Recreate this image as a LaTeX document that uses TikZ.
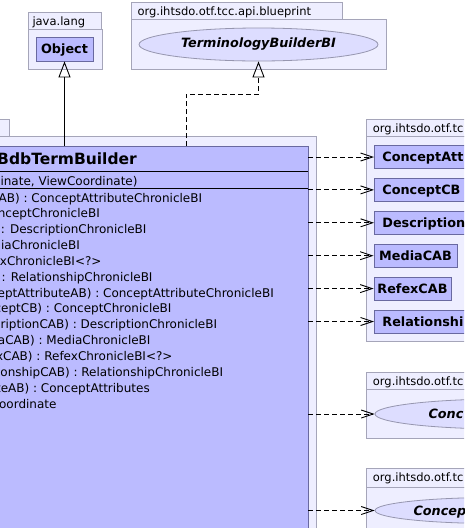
\documentclass[tikz,border=0pt]{standalone}
\usepackage{fontspec}
\setmainfont{DejaVu Sans}
\usetikzlibrary{arrows.meta,shapes.geometric,fit}
\definecolor{pkgfill}{RGB}{238,238,255}
\definecolor{pkgline}{RGB}{165,165,185}
\definecolor{clsfill}{RGB}{187,187,255}
\definecolor{clsline}{RGB}{105,105,160}
\definecolor{elfill}{RGB}{221,221,255}
\definecolor{elline}{RGB}{150,150,175}
\begin{document}
\begin{tikzpicture}[x=1pt,y=-1pt,
  pkg/.style={draw=pkgline, fill=pkgfill, line width=0.8pt, inner sep=0pt},
  pkglabel/.style={anchor=base west, inner sep=0pt, font=\fontsize{11.5}{13}\selectfont},
  clsbox/.style={draw=clsline, fill=clsfill, line width=0.8pt, inner sep=0pt,
    text height=9.3pt, text depth=0pt, font=\fontsize{12.8}{15}\selectfont\bfseries},
  leftbox/.style={clsbox, anchor=west, text width=140pt, align=left, inner xsep=8pt, minimum height=23pt},
  iface/.style={ellipse, draw=elline, fill=elfill, line width=0.8pt, inner sep=0pt,
    font=\fontsize{12.8}{15}\selectfont\bfseries\itshape},
  itext/.style={anchor=base west, inner sep=0pt, font=\fontsize{12.8}{15}\selectfont\bfseries\itshape},
  mtext/.style={anchor=base east, inner sep=0pt, font=\fontsize{12}{14}\selectfont},
  dep/.style={line width=0.9pt, dash pattern=on 5pt off 3pt, -{Straight Barb[length=12pt,width=8pt]}},
  inh/.style={line width=0.9pt, -{Triangle[open,length=16pt,width=12pt]}},
  real/.style={line width=0.9pt, dash pattern=on 5pt off 3pt, -{Triangle[open,length=16pt,width=12pt]}}
]
\useasboundingbox (0,0) rectangle (464,528);
\clip (0,0) rectangle (464,528);

% java.lang package
\node[pkg, fit={(28,12.3) (101,29.3)}] (jltab) {};
\node[pkg, fit={(28,29.3) (102.3,69)}] (jlbody) {};
\node[pkglabel] (jllabel) at (32.3,25.8) {java.lang};
\node[clsbox, minimum width=57pt, minimum height=24pt] (obj) at (64.5,49) {Object};

% blueprint package
\node[pkg, fit={(131,2) (342,19)}] (bptab) {};
\node[pkg, fit={(131,19) (386,69)}] (bpbody) {};
\node[pkglabel] (bplabel) at (137.3,15.5) {org.ihtsdo.otf.tcc.api.blueprint};
\node[iface, minimum width=239pt, minimum height=33pt] (tbi) at (258.5,44.5) {TerminologyBuilderBI};

% left package with main class
\node[pkg, fit={(-60,119) (9,136)}] (lptab) {};
\node[pkg, fit={(-60,136) (316,560)}] (lpbody) {};
\node[draw=clsline, fill=clsfill, line width=0.8pt, inner sep=0pt, fit={(-40,146) (308,560)}] (main) {};
\draw[line width=0.8pt] (main.west |- 0,171) -- (main.east |- 0,171);
\draw[line width=0.8pt] (main.west |- 0,188.5) -- (main.east |- 0,188.5);
\node[anchor=base east, inner sep=0pt, font=\fontsize{15.5}{18}\selectfont\bfseries] (title) at (137,164.3) {BdbTermBuilder};
\node[mtext] (ctor) at (137.7,185.5) {inate, ViewCoordinate)};
\node[mtext] (m1) at (202.3,202) {eAB) : ConceptAttributeChronicleBI};
\node[mtext] (m2) at (100,217.85) {nceptChronicleBI};
\node[mtext] (m3) at (146.7,233.7) {) : DescriptionChronicleBI};
\node[mtext] (m4) at (80,249.55) {diaChronicleBI};
\node[mtext] (m5) at (101.7,265.4) {exChronicleBI<?>};
\node[mtext] (m6) at (152.7,281.25) {) : RelationshipChronicleBI};
\node[mtext] (m7) at (274,297.1) {ceptAttributeAB) : ConceptAttributeChronicleBI};
\node[mtext] (m8) at (171.7,312.95) {ceptCB) : ConceptChronicleBI};
\node[mtext] (m9) at (217.3,328.8) {criptionCAB) : DescriptionChronicleBI};
\node[mtext] (m10) at (150.7,344.65) {aCAB) : MediaChronicleBI};
\node[mtext] (m11) at (172.7,360.5) {xCAB) : RefexChronicleBI<?>};
\node[mtext] (m12) at (223.3,376.35) {tionshipCAB) : RelationshipChronicleBI};
\node[mtext] (m13) at (150,392.2) {teAB) : ConceptAttributes};
\node[mtext] (m14) at (56.7,408.05) {oordinate};

% right package 1
\node[pkg, fit={(366,119) (560,136)}] (rptab) {};
\node[pkg, fit={(366,136) (560,341)}] (rpbody) {};
\node[pkglabel] (rplabel) at (372.7,132.5) {org.ihtsdo.otf.tc};
\node[leftbox] (cab) at (374,157) {ConceptAtt};
\node[leftbox] (ccb) at (374,189.9) {ConceptCB};
\node[leftbox] (dcab) at (374,222.8) {Description};
\node[clsbox, minimum width=83pt, minimum height=23pt] (mcab) at (415.5,255.7) {MediaCAB};
\node[clsbox, minimum width=77pt, minimum height=23pt] (rcab) at (412.5,288.6) {RefexCAB};
\node[leftbox] (relcab) at (374,321.5) {Relationshi};

% package 2
\node[pkg, fit={(366,372) (560,389)}] (p2tab) {};
\node[pkg, fit={(366,389) (560,438)}] (p2body) {};
\node[pkglabel] (p2label) at (372.7,385.5) {org.ihtsdo.otf.tc};
\node[iface, minimum width=260pt, minimum height=30pt] (if2) at (505,414) {};
\node[itext] (if2text) at (428.3,418.7) {Conc};

% package 3
\node[pkg, fit={(366,468.3) (560,487.5)}] (p3tab) {};
\node[pkg, fit={(366,487.5) (560,560)}] (p3body) {};
\node[pkglabel] (p3label) at (372.7,481.8) {org.ihtsdo.otf.tc};
\node[iface, minimum width=240pt, minimum height=26pt] (if3) at (495,510.5) {};
\node[itext] (if3text) at (413.3,515.1) {Concep};

% inheritance
\draw[inh] (obj.south |- main.north) -- (obj.south);
\coordinate (rstart) at (186,146);
\draw[real] (rstart) -- ++(0,-52) -| (tbi.south);

% dependencies
\foreach \t in {cab,ccb,dcab,mcab,rcab,relcab,if2,if3}
  \draw[dep] (\t.west -| main.east) -- (\t.west);
\end{tikzpicture}
\end{document}
